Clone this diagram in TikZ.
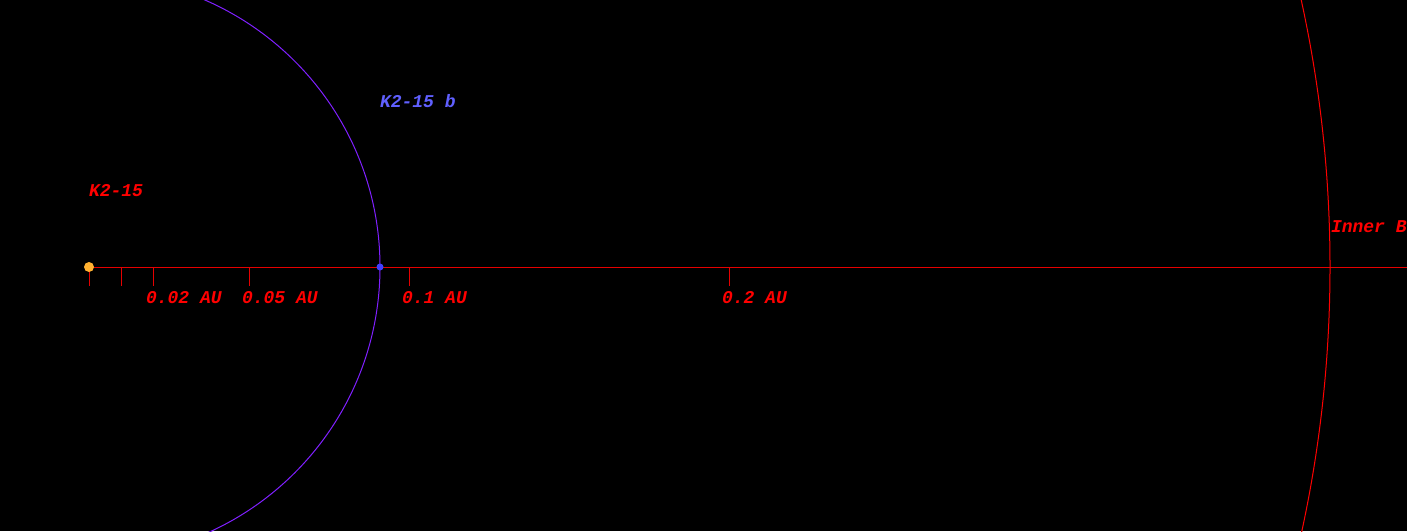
\documentclass[tikz,border=0pt]{standalone}
\usepackage{fontspec}
\newfontfamily\labfont{Liberation Mono}
\definecolor{axisred}{RGB}{230,0,0}
\definecolor{orbitpurple}{RGB}{128,32,255}
\definecolor{planetblue}{RGB}{64,64,255}
\definecolor{labelblue}{RGB}{96,96,255}
\definecolor{starorange}{RGB}{255,176,48}
\definecolor{labred}{RGB}{255,0,0}
\tikzset{
  lab/.style={anchor=base west, inner sep=0pt, outer sep=0pt, font=\labfont\bfseries\itshape\fontsize{18}{18}\selectfont},
  redlab/.style={lab, text=labred},
  tick/.style={draw=axisred, line width=1pt},
}
\begin{document}
\begin{tikzpicture}[x=1pt,y=-1pt]
\fill[black] (0,0) rectangle (1407,531);
\useasboundingbox (0,0) rectangle (1407,531);
\begin{scope}
\clip (0,0) rectangle (1407,531);
% axis
\coordinate (star) at (89,267);
\coordinate (axisend) at (1407,267);
\draw[axisred, line width=1pt] (star) -- (axisend);
% ticks
\foreach \x/\n in {89/t0,121/t1,153/t2,249/t5,409/t10,729/t20}{
  \coordinate (\n) at (\x,267);
  \draw[tick] (\n) -- ++(0,19);
}
% orbits
\draw[orbitpurple, line width=1pt] (star) circle[radius=291];
\draw[labred, line width=1pt] (star) circle[radius=1241];
% bodies
\fill[starorange] (star) circle[radius=5];
\node[circle, fill=planetblue, minimum size=7pt, inner sep=0pt] (planet) at (380,267) {};
% labels
\node[redlab] (starlab) at (89,196) {K2-15};
\node[lab, text=labelblue] (planetlab) at (380,107) {K2-15 b};
\node[redlab] (l2) at (146,303) {0.02 AU};
\node[redlab] (l5) at (242,303) {0.05 AU};
\node[redlab] (l10) at (402,303) {0.1 AU};
\node[redlab] (l20) at (722,303) {0.2 AU};
\node[redlab] (inner) at (1331,232) {Inner Boundary};
\end{scope}
\end{tikzpicture}
\end{document}
